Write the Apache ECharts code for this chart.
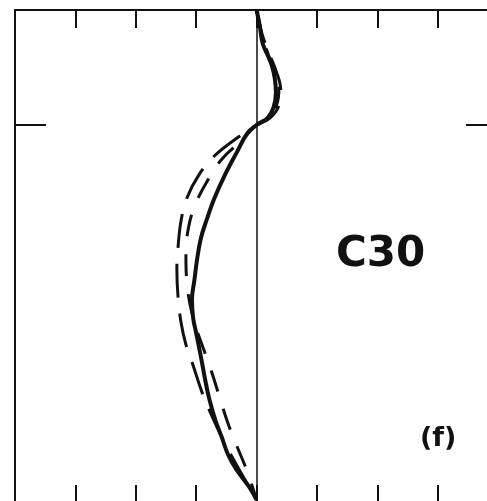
<!DOCTYPE html>
<html>
<head>
<meta charset="utf-8">
<script src="https://cdn.jsdelivr.net/npm/echarts@6/dist/echarts.min.js"></script>
<style>html,body{margin:0;padding:0;background:#fff;}#c{width:487px;height:501px;}</style>
</head>
<body>
<div id="c"></div>
<script>
// Profile values: x = anomaly (tick units), y = level (0 at top, crossing level at 1)
const solidX = [0, 0.05, 0.10, 0.18, 0.25, 0.30, 0.32, 0.28, 0.18, 0, -0.15, -0.33, -0.53, -0.70, -0.83, -0.92, -0.98, -1.03, -1.07, -1.05, -1.00, -0.92, -0.85, -0.78, -0.68, -0.58, -0.47, -0.33, -0.12, 0];
const solidY = [0, 0.13, 0.29, 0.39, 0.48, 0.59, 0.72, 0.85, 0.94, 1.00, 1.07, 1.24, 1.44, 1.64, 1.83, 1.98, 2.15, 2.35, 2.52, 2.68, 2.81, 3.02, 3.22, 3.39, 3.57, 3.71, 3.87, 4.00, 4.15, 4.26];
const outerX = [0, 0.08, 0.20, 0.33, 0.40, 0.37, 0.22, 0, -0.42, -0.70, -0.95, -1.15, -1.25, -1.30, -1.32, -1.30, -1.25, -1.17, -1.07, -0.90, -0.75, -0.58, -0.35, -0.12, 0];
const outerY = [0, 0.19, 0.37, 0.54, 0.70, 0.83, 0.94, 1.00, 1.15, 1.27, 1.43, 1.63, 1.83, 2.06, 2.26, 2.50, 2.72, 2.91, 3.06, 3.33, 3.52, 3.71, 3.94, 4.15, 4.26];
const innerX = [0, 0.07, 0.17, 0.28, 0.37, 0.33, 0.20, 0, -0.28, -0.58, -0.83, -1.02, -1.13, -1.17, -1.15, -1.05, -0.87, -0.73, -0.60, -0.47, -0.32, -0.15, 0];
const innerY = [0, 0.17, 0.35, 0.52, 0.68, 0.83, 0.93, 1.00, 1.15, 1.30, 1.50, 1.70, 1.90, 2.13, 2.39, 2.68, 2.96, 3.17, 3.39, 3.60, 3.80, 4.02, 4.26];
const yTickValues = [1];
const xTickValues = [-3, -2, -1, 0, 1, 2, 3];
const panelTitle = 'C30';
const panelLetter = '(f)';

const zip = (xs, ys) => xs.map((v, i) => [v, ys[i]]);
const chart = echarts.init(document.getElementById('c'), null, {renderer: 'canvas'});
const ink = '#111';
const xAxisBase = {
  type: 'value', min: -4, max: 3.815, interval: 1,
  axisLabel: {show: false}, splitLine: {show: false}
};
const yAxisBase = {
  type: 'value', min: 0, max: 4.27, inverse: true,
  axisLabel: {show: false}, splitLine: {show: false}
};
chart.setOption({
  animation: false,
  backgroundColor: '#fff',
  grid: {left: 15, top: 10, right: 0, bottom: 0, containLabel: false},
  xAxis: [
    Object.assign({}, xAxisBase, {
      position: 'top',
      axisLine: {show: true, onZero: false, lineStyle: {color: ink, width: 2}},
      axisTick: {show: true, inside: true, length: 18, customValues: xTickValues, lineStyle: {color: ink, width: 2}}
    }),
    Object.assign({}, xAxisBase, {
      position: 'bottom',
      axisLine: {show: false, onZero: false},
      axisTick: {show: true, inside: true, length: 16, customValues: xTickValues, lineStyle: {color: ink, width: 2}}
    })
  ],
  yAxis: [
    Object.assign({}, yAxisBase, {position: 'left',
      axisLine: {show: true, onZero: false, lineStyle: {color: ink, width: 2}},
      axisTick: {show: true, inside: true, length: 31, customValues: yTickValues, lineStyle: {color: ink, width: 2}}}),
    Object.assign({}, yAxisBase, {position: 'right',
      axisLine: {show: false, onZero: false},
      axisTick: {show: true, inside: true, length: 21, customValues: yTickValues, lineStyle: {color: ink, width: 2}}})
  ],
  series: [
    {
      type: 'line', xAxisIndex: 0, yAxisIndex: 0, data: zip(outerX, outerY),
      smooth: 0.4, symbol: 'none',
      lineStyle: {color: ink, width: 3, type: [34, 16]}
    },
    {
      type: 'line', xAxisIndex: 0, yAxisIndex: 0, data: zip(innerX, innerY),
      smooth: 0.4, symbol: 'none',
      lineStyle: {color: ink, width: 3, type: [22, 18]}
    },
    {
      type: 'line', xAxisIndex: 0, yAxisIndex: 0, data: zip(solidX, solidY),
      smooth: 0.4, symbol: 'none',
      lineStyle: {color: ink, width: 4},
      markLine: {
        silent: true, symbol: ['none', 'none'], label: {show: false},
        lineStyle: {color: ink, width: 1.5, type: 'solid'},
        data: [{xAxis: 0}]
      }
    }
  ],
  graphic: [
    {type: 'text', left: 336, top: 234, style: {text: panelTitle, fill: ink, font: 'bold 42px "DejaVu Sans"'}},
    {type: 'text', left: 420, top: 425, style: {text: panelLetter, fill: ink, font: 'bold 27px "DejaVu Sans"'}}
  ]
});
</script>
</body>
</html>
